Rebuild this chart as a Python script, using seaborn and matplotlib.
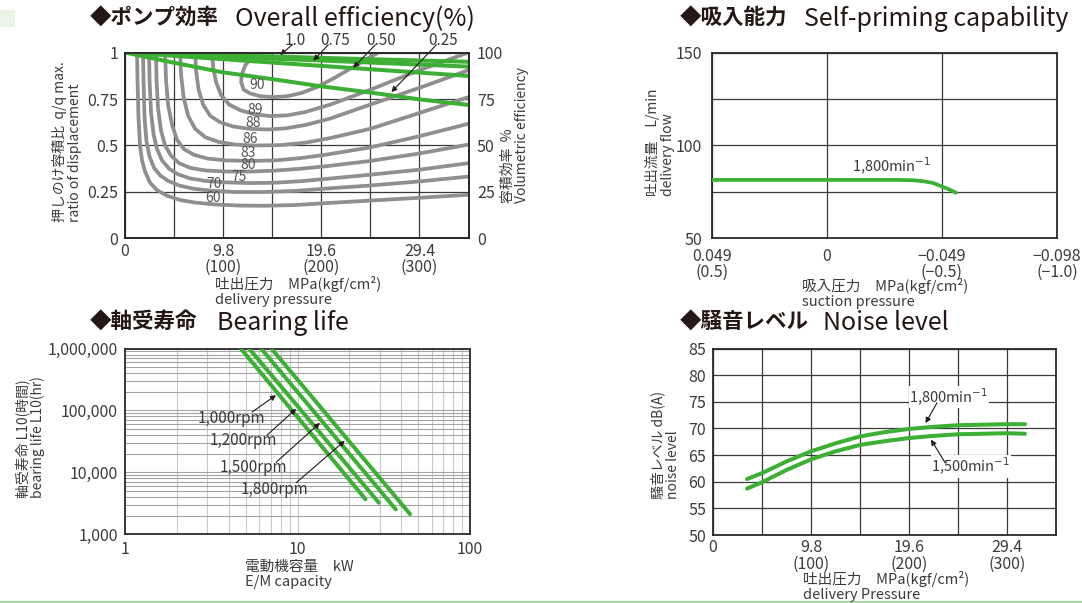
import matplotlib
matplotlib.use("Agg")
import matplotlib.pyplot as plt
import numpy as np
import seaborn as sns
from matplotlib.lines import Line2D
from matplotlib.patches import Rectangle
from matplotlib.ticker import FixedLocator, FixedFormatter, NullFormatter

# ---------------- data: overall efficiency ----------------
press_ticks = [0, 9.8, 19.6, 29.4]
press_minor = [4.9, 14.7, 24.5]
press_labels = ["0", "9.8\n(100)", "19.6\n(200)", "29.4\n(300)"]
ratio_ticks = [0, 0.25, 0.5, 0.75, 1]
ratio_labels = ["0", "0.25", "0.5", "0.75", "1"]
vol_ticks = [0, 25, 50, 75, 100]

eff60_x = [1.2, 1.25, 1.35, 1.5, 1.7, 2.0, 2.5, 3.2, 4.2, 5.5, 7.0, 9.0, 11.5, 14.0, 17.0, 20.0, 24.5, 29.4, 34.3]
eff60_y = [1.0, 0.85, 0.65, 0.50, 0.42, 0.36, 0.30, 0.26, 0.23, 0.207, 0.193, 0.183, 0.177, 0.176, 0.180, 0.190, 0.204, 0.219, 0.235]
eff70_x = [1.8, 1.85, 1.95, 2.15, 2.45, 2.9, 3.5, 4.3, 5.4, 6.8, 8.6, 11.0, 14.0, 17.0, 20.0, 24.5, 29.4, 34.3]
eff70_y = [1.0, 0.85, 0.65, 0.52, 0.44, 0.38, 0.34, 0.31, 0.285, 0.268, 0.257, 0.25, 0.25, 0.256, 0.268, 0.285, 0.307, 0.333]
eff75_x = [2.4, 2.45, 2.6, 2.85, 3.2, 3.7, 4.4, 5.3, 6.5, 8.0, 10.0, 12.5, 15.0, 17.5, 20.0, 24.5, 29.4, 34.3]
eff75_y = [1.0, 0.85, 0.68, 0.56, 0.48, 0.42, 0.375, 0.345, 0.323, 0.31, 0.302, 0.298, 0.30, 0.308, 0.32, 0.343, 0.37, 0.405]
eff80_x = [3.1, 3.15, 3.3, 3.6, 4.0, 4.6, 5.4, 6.5, 8.0, 10.0, 12.5, 15.0, 17.5, 20.0, 24.5, 29.4, 34.3]
eff80_y = [1.0, 0.85, 0.7, 0.58, 0.50, 0.445, 0.405, 0.38, 0.366, 0.36, 0.36, 0.365, 0.375, 0.388, 0.417, 0.457, 0.505]
eff83_x = [4.0, 4.1, 4.3, 4.7, 5.2, 5.9, 6.9, 8.2, 10.0, 12.5, 15.0, 17.5, 20.0, 24.5, 29.4, 34.3]
eff83_y = [1.0, 0.85, 0.72, 0.61, 0.53, 0.48, 0.45, 0.43, 0.42, 0.417, 0.42, 0.432, 0.45, 0.49, 0.55, 0.617]
eff86_x = [5.5, 5.6, 5.85, 6.3, 7.0, 8.0, 9.3, 11.0, 13.0, 15.5, 18.0, 20.5, 24.5, 29.4, 34.3]
eff86_y = [1.0, 0.88, 0.76, 0.66, 0.59, 0.545, 0.52, 0.505, 0.50, 0.502, 0.515, 0.54, 0.59, 0.675, 0.76]
eff88_x = [7.0, 7.1, 7.35, 7.8, 8.5, 9.5, 10.8, 12.4, 14.2, 16.0, 18.0, 20.5, 24.5, 29.4, 34.3]
eff88_y = [1.0, 0.9, 0.8, 0.72, 0.66, 0.625, 0.602, 0.59, 0.586, 0.592, 0.61, 0.645, 0.72, 0.81, 0.905]
eff89_x = [8.7, 8.8, 9.1, 9.6, 10.4, 11.5, 12.9, 14.5, 16.2, 18.0, 20.5, 24.5, 29.4, 32.5, 34.3]
eff89_y = [1.0, 0.92, 0.84, 0.77, 0.72, 0.69, 0.668, 0.658, 0.662, 0.68, 0.72, 0.80, 0.905, 0.965, 1.0]
eff90_x = [13.6, 12.6, 12.0, 11.65, 11.6, 11.85, 12.5, 13.5, 14.8, 16.2, 17.6, 19.2, 20.8, 22.4, 24.0, 25.3]
eff90_y = [1.0, 0.97, 0.93, 0.88, 0.84, 0.80, 0.78, 0.765, 0.76, 0.765, 0.782, 0.815, 0.86, 0.91, 0.96, 1.0]
contour_names = ["60", "70", "75", "80", "83", "86", "88", "89", "90"]
contour_label_x = [8.8, 8.9, 11.4, 12.25, 12.3, 12.5, 12.8, 13.0, 13.2]
contour_label_y = [0.219, 0.291, 0.329, 0.394, 0.460, 0.533, 0.619, 0.691, 0.825]

vol_x = [0, 4.9, 9.8, 14.7, 19.6, 24.5, 29.4, 34.3]
vol_100 = [1.0, 0.993, 0.986, 0.979, 0.971, 0.964, 0.957, 0.950]
vol_075 = [1.0, 0.989, 0.978, 0.967, 0.957, 0.946, 0.935, 0.924]
vol_050 = [1.0, 0.982, 0.964, 0.946, 0.928, 0.910, 0.892, 0.874]
vol_025 = [1.0, 0.945, 0.893, 0.857, 0.818, 0.785, 0.748, 0.718]
vol_names = ["1.0", "0.75", "0.50", "0.25"]

# ---------------- data: self-priming ----------------
suction_ticks = [0.049, 0.0, -0.049, -0.098]
suction_labels = ["0.049\n(0.5)", "0", "\u22120.049\n(\u22120.5)", "\u22120.098\n(\u22121.0)"]
flow_ticks = [50, 100, 150]
flow_minor = [75, 125]
sp_x = [0.049, 0.0, -0.030, -0.037, -0.041, -0.045, -0.049, -0.052, -0.055]
sp_y = [81.5, 81.5, 81.5, 81.3, 80.8, 79.9, 78.0, 76.4, 74.6]

# ---------------- data: bearing life ----------------
kw_ticks = [1, 10, 100]
kw_labels = ["1", "10", "100"]
life_ticks = [1e3, 1e4, 1e5, 1e6]
life_labels = ["1,000", "10,000", "100,000", "1,000,000"]
rpm_names = ["1,000rpm", "1,200rpm", "1,500rpm", "1,800rpm"]
kw_1000 = [4.69, 24.8]
life_1000 = [1e6, 3670]
kw_1200 = [5.24, 29.6]
life_1200 = [1e6, 3240]
kw_1500 = [6.15, 37.1]
life_1500 = [1e6, 2530]
kw_1800 = [7.06, 44.9]
life_1800 = [1e6, 2120]

# ---------------- data: noise level ----------------
noise_yticks = [50, 55, 60, 65, 70, 75, 80, 85]
noise_x = [3.4, 4.9, 7.35, 9.8, 12.25, 14.7, 17.15, 19.6, 22.05, 24.5, 26.95, 29.4, 31.2]
noise_1800 = [60.5, 61.6, 63.8, 65.7, 67.2, 68.5, 69.3, 69.9, 70.3, 70.6, 70.7, 70.8, 70.8]
noise_1500 = [58.7, 59.9, 62.2, 64.2, 65.7, 66.9, 67.6, 68.2, 68.6, 68.9, 69.0, 69.1, 69.0]

# ---------------- style ----------------
sns.set_theme(style="white")
plt.rcParams["font.family"] = ["Noto Sans CJK JP", "DejaVu Sans"]
plt.rcParams["axes.unicode_minus"] = True

GREEN = "#3caf34"
GRAY = "#8f8f8f"
GRIDC = "#3a3a3a"
TXT = "#3e3a39"
TITLE = "#231815"
TICK = 11.5
AXLAB = 10.5
YLAB = 10

W, H = 1082, 603
fig = plt.figure(figsize=(W / 100, H / 100), dpi=100)
fig.patch.set_facecolor("white")


def rect(l, t, r, b):
    return [l / W, 1 - b / H, (r - l) / W, (b - t) / H]


def P(px, py):
    return px / W, 1 - py / H


def style_axes(ax):
    for s in ax.spines.values():
        s.set_visible(True)
        s.set_color("#2a2a2a")
        s.set_linewidth(1.3)
    ax.tick_params(which="both", length=0, labelsize=TICK, labelcolor=TXT)
    ax.tick_params(axis="x", pad=3)
    ax.tick_params(axis="y", pad=5)
    ax.set_axisbelow(True)
    ax.set_xlabel("")
    ax.set_ylabel("")


def title(px_jp, px_en, py, jp, en):
    fig.text(*P(px_jp, py), jp, fontsize=15.5, fontweight="bold", color=TITLE, ha="left", va="center")
    fig.text(*P(px_en, py + 0.5), en, fontsize=18, color=TITLE, ha="left", va="center")


def arrow(ax, head, tail):
    ax.annotate("", xy=head, xytext=tail,
                arrowprops=dict(arrowstyle="-|>", color="#231815", lw=0.8,
                                mutation_scale=8, shrinkA=0, shrinkB=0), zorder=6)


def ylabel(px, py, s):
    fig.text(*P(px, py), s, rotation=90, fontsize=YLAB, color=TXT, ha="center", va="center",
             multialignment="left", linespacing=1.05)


def xlabel(px, py, s):
    fig.text(*P(px, py), s, fontsize=AXLAB, color=TXT, ha="left", va="top", linespacing=1.05)


# ================= Overall efficiency =================
ax1 = fig.add_axes(rect(125, 52.5, 468.5, 238.5))
contours = [(eff60_x, eff60_y), (eff70_x, eff70_y), (eff75_x, eff75_y), (eff80_x, eff80_y),
            (eff83_x, eff83_y), (eff86_x, eff86_y), (eff88_x, eff88_y), (eff89_x, eff89_y),
            (eff90_x, eff90_y)]
for (cx, cy) in contours:
    sns.lineplot(x=np.array(cx), y=np.array(cy), ax=ax1, sort=False, estimator=None,
                 color=GRAY, linewidth=2.7, zorder=2, solid_joinstyle="round")
for name, lx, ly in zip(contour_names, contour_label_x, contour_label_y):
    ax1.text(lx, ly, name, fontsize=10, color="#555555", ha="center", va="center", zorder=4)
for vy in [vol_100, vol_075, vol_050, vol_025]:
    sns.lineplot(x=np.array(vol_x), y=np.array(vy), ax=ax1, sort=False, estimator=None,
                 color=GREEN, linewidth=2.9, zorder=3)
ax1.set_xlim(0, 34.3)
ax1.set_ylim(0, 1)
ax1.xaxis.set_major_locator(FixedLocator(press_ticks))
ax1.xaxis.set_major_formatter(FixedFormatter(press_labels))
ax1.xaxis.set_minor_locator(FixedLocator(press_minor))
ax1.yaxis.set_major_locator(FixedLocator(ratio_ticks))
ax1.yaxis.set_major_formatter(FixedFormatter(ratio_labels))
ax1.grid(True, which="both", color=GRIDC, linewidth=0.9)
style_axes(ax1)
for t in ax1.get_xticklabels():
    t.set_linespacing(0.95)
ax1r = ax1.twinx()
ax1r.set_ylim(0, 100)
ax1r.yaxis.set_major_locator(FixedLocator(vol_ticks))
ax1r.grid(False)
style_axes(ax1r)
ax1r.tick_params(axis="y", pad=6)

vol_label_x = [17.0, 21.0, 25.6, 31.8]
for name, lx in zip(vol_names, vol_label_x):
    ax1.text(lx, 1.062, name, fontsize=11, color=TXT, ha="center", va="center", clip_on=False)
arrow(ax1, (15.5, 0.986), (16.7, 1.042))
arrow(ax1, (18.8, 0.956), (20.3, 1.042))
arrow(ax1, (22.8, 0.918), (25.0, 1.042))
arrow(ax1, (26.6, 0.787), (31.1, 1.042))

title(90, 235, 18.5, "◆ポンプ効率", "Overall efficiency(%)")
ylabel(67, 142, "押しのけ容積比  q/q max.\nratio of displacement")
ylabel(515, 135, "容積効率  %\nVolumetric efficiency")
xlabel(215, 276, "吐出圧力　MPa(kgf/cm²)\ndelivery pressure")

# ================= Self-priming =================
ax2 = fig.add_axes(rect(712, 52.5, 1057, 238.5))
sns.lineplot(x=np.array(sp_x), y=np.array(sp_y), ax=ax2, sort=False, estimator=None,
             color=GREEN, linewidth=2.7, zorder=3)
ax2.set_xlim(0.049, -0.098)
ax2.set_ylim(50, 150)
ax2.xaxis.set_major_locator(FixedLocator(suction_ticks))
ax2.xaxis.set_major_formatter(FixedFormatter(suction_labels))
ax2.yaxis.set_major_locator(FixedLocator(flow_ticks))
ax2.yaxis.set_minor_locator(FixedLocator(flow_minor))
ax2.grid(True, which="both", color=GRIDC, linewidth=0.9)
style_axes(ax2)
ax2.tick_params(axis="x", pad=6.5)
ax2.tick_params(axis="y", pad=7)
for t in ax2.get_xticklabels():
    t.set_linespacing(0.95)
ax2.text(-0.0276, 88.6, "1,800min$^{-1}$", fontsize=10.5, color=TXT, ha="center", va="center")
title(680, 804, 18.5, "◆吸入能力", "Self-priming capability")
ylabel(660, 142, "吐出流量　L/min\ndelivery flow")
xlabel(802, 278, "吸入圧力　MPa(kgf/cm²)\nsuction pressure")

# ================= Bearing life =================
ax3 = fig.add_axes(rect(125, 348.5, 470, 534.3))
for kx, ly in [(kw_1000, life_1000), (kw_1200, life_1200), (kw_1500, life_1500), (kw_1800, life_1800)]:
    sns.lineplot(x=np.array(kx), y=np.array(ly), ax=ax3, sort=False, estimator=None,
                 color=GREEN, linewidth=2.9, zorder=3)
ax3.set_xscale("log")
ax3.set_yscale("log")
ax3.set_xlim(1, 100)
ax3.set_ylim(1e3, 1e6)
ax3.xaxis.set_major_locator(FixedLocator(kw_ticks))
ax3.xaxis.set_major_formatter(FixedFormatter(kw_labels))
ax3.xaxis.set_minor_locator(FixedLocator([m * d for d in [1, 10] for m in range(2, 10)]))
ax3.xaxis.set_minor_formatter(NullFormatter())
ax3.yaxis.set_major_locator(FixedLocator(life_ticks))
ax3.yaxis.set_major_formatter(FixedFormatter(life_labels))
ax3.yaxis.set_minor_locator(FixedLocator([m * d for d in [1e3, 1e4, 1e5] for m in range(2, 10)]))
ax3.yaxis.set_minor_formatter(NullFormatter())
ax3.grid(True, axis="x", which="both", color="#c9c9c9", linewidth=0.8)
ax3.grid(True, axis="y", which="both", color="#a4a4a4", linewidth=0.8)
style_axes(ax3)
ax3.tick_params(axis="x", pad=5)
rpm_text_xy = [(4.12, 75200), (4.88, 32400), (5.55, 12050), (7.31, 5380)]
rpm_head = [(7.51, 176600), (9.82, 106000), (13.5, 63100), (18.8, 32400)]
rpm_tail = [(5.45, 94000), (6.66, 40000), (7.51, 14500), (9.82, 6790)]
for name, txy, hd, tl in zip(rpm_names, rpm_text_xy, rpm_head, rpm_tail):
    ax3.text(txy[0], txy[1], name, fontsize=11, color=TXT, ha="center", va="center", zorder=5)
    arrow(ax3, hd, tl)
title(90, 217, 322.5, "◆軸受寿命", "Bearing life")
ylabel(30, 437, "軸受寿命 L10(時間)\nbearing life L10(hr)")
xlabel(245, 560, "電動機容量　kW\nE/M capacity")

# ================= Noise level =================
ax4 = fig.add_axes(rect(713, 348.5, 1056, 535))
sns.lineplot(x=np.array(noise_x), y=np.array(noise_1800), ax=ax4, sort=False, estimator=None,
             color=GREEN, linewidth=2.9, zorder=3)
sns.lineplot(x=np.array(noise_x), y=np.array(noise_1500), ax=ax4, sort=False, estimator=None,
             color=GREEN, linewidth=2.9, zorder=3)
ax4.set_xlim(0, 34.3)
ax4.set_ylim(50, 85)
ax4.xaxis.set_major_locator(FixedLocator(press_ticks))
ax4.xaxis.set_major_formatter(FixedFormatter(press_labels))
ax4.xaxis.set_minor_locator(FixedLocator(press_minor))
ax4.yaxis.set_major_locator(FixedLocator(noise_yticks))
ax4.grid(True, which="both", color=GRIDC, linewidth=0.9)
style_axes(ax4)
for t in ax4.get_xticklabels():
    t.set_linespacing(0.95)
ax4.text(23.6, 75.9, "1,800min$^{-1}$", fontsize=10.5, color=TXT, ha="center", va="center",
         bbox=dict(fc="white", ec="none", pad=0.6), zorder=5)
arrow(ax4, (21.25, 71.0), (22.4, 74.8))
ax4.text(25.8, 62.85, "1,500min$^{-1}$", fontsize=10.5, color=TXT, ha="center", va="center",
         bbox=dict(fc="white", ec="none", pad=0.6), zorder=5)
arrow(ax4, (21.8, 67.9), (23.2, 63.6))
title(680, 823, 322.5, "◆騒音レベル", "Noise level")
ylabel(665, 445, "騒音レベル dB(A)\nnoise level")
xlabel(803, 571, "吐出圧力　MPa(kgf/cm²)\ndelivery Pressure")

# page decorations
fig.add_artist(Line2D([0, 1], [1 - 601.5 / H, 1 - 601.5 / H], transform=fig.transFigure,
                      color="#a6dba0", linewidth=1.6))
fig.add_artist(Rectangle(P(0, 27), 15 / W, 17 / H, transform=fig.transFigure,
                         facecolor="#eaf5e8", edgecolor="none"))

fig.savefig("out.png", dpi=100)
